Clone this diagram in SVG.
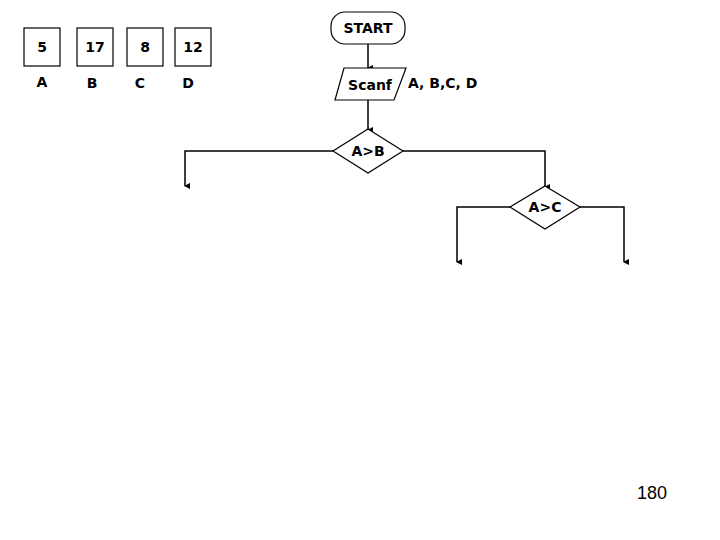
<svg xmlns="http://www.w3.org/2000/svg" width="720" height="540" viewBox="0 0 720 540">
<style>
.s{fill:#fff;stroke:#000;stroke-width:1.2}
.t{font-family:"DejaVu Sans",sans-serif;font-weight:bold;font-size:14px;text-anchor:middle;dominant-baseline:central}
.c{fill:none;stroke:#000;stroke-width:1.5}
</style>
<defs><marker id="a" markerWidth="6" markerHeight="6" refX="3" refY="5" orient="auto" markerUnits="userSpaceOnUse"><path d="M0,0L6,0L3,6z"/></marker></defs>
<rect width="720" height="540" fill="#fff"/>
<g id="vars">
<rect class="s" x="24" y="28" width="36" height="38"/><text class="t" x="42" y="47" font-size="16">5</text>
<rect class="s" x="77" y="28" width="36" height="38"/><text class="t" x="95" y="47" font-size="16">17</text>
<rect class="s" x="127" y="28" width="36" height="38"/><text class="t" x="145" y="47" font-size="16">8</text>
<rect class="s" x="175" y="28" width="36" height="38"/><text class="t" x="193" y="47" font-size="16">12</text>
<text class="t" x="42" y="82" font-weight="normal" font-size="16">A</text>
<text class="t" x="92" y="83" font-weight="normal" font-size="16">B</text>
<text class="t" x="140" y="83" font-weight="normal" font-size="16">C</text>
<text class="t" x="188" y="83" font-weight="normal" font-size="16">D</text>
</g>
<g id="conn">
<path class="c" d="M368,44V68" marker-end="url(#a)"/>
<path class="c" d="M368,100V130" marker-end="url(#a)"/>
<path class="c" d="M333,151H185V186" marker-end="url(#a)"/>
<path class="c" d="M403,151H545V187" marker-end="url(#a)"/>
<path class="c" d="M510,207H457V262" marker-end="url(#a)"/>
<path class="c" d="M580,207H624V262" marker-end="url(#a)"/>
</g>
<g id="start"><rect class="s" x="331" y="12" width="74" height="32" rx="14"/><text class="t" x="368" y="28">START</text></g>
<g id="scanf"><path class="s" d="M344,68H406L394,100H335Z"/><text class="t" x="370" y="85">Scanf</text>
<text class="t" x="408" y="83" style="text-anchor:start">A, B,C, D</text></g>
<g id="ab"><path class="s" d="M368,129L403,151L368,173L333,151Z"/><text class="t" x="368" y="151" font-size="13">A&gt;B</text></g>
<g id="ac"><path class="s" d="M545,186L580,207L545,229L510,207Z"/><text class="t" x="545" y="207" font-size="13">A&gt;C</text></g>
<text x="652" y="499" font-family="Liberation Sans,sans-serif" font-size="18" text-anchor="middle">180</text>
</svg>
